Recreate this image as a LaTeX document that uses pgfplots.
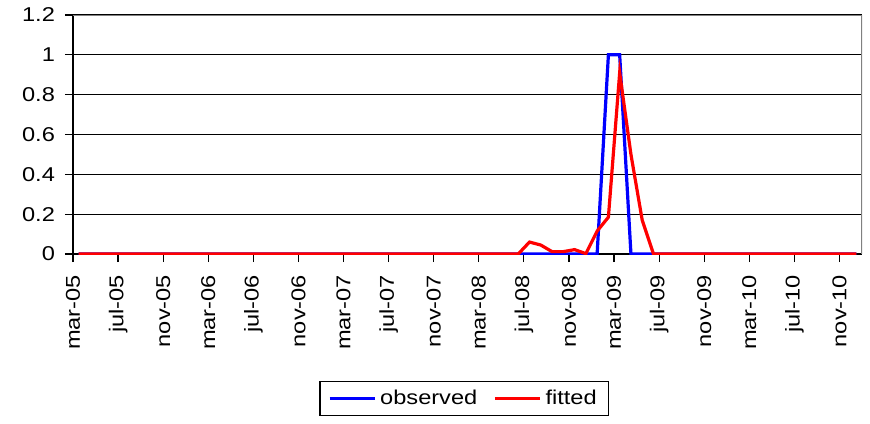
\documentclass[border=0pt]{standalone}
\usepackage{fontspec}
\setmainfont[FakeStretch=1.18]{Liberation Sans}
\usepackage{pgfplots}
\pgfplotsset{compat=1.18}
\usepackage{pgfplotstable}

% monthly data, mar-05 .. dec-10, plotted at slot centres (i+0.5)
\pgfplotstableread{
x    obs  fit
0.5  0    0
1.5  0    0
2.5  0    0
3.5  0    0
4.5  0    0
5.5  0    0
6.5  0    0
7.5  0    0
8.5  0    0
9.5  0    0
10.5 0    0
11.5 0    0
12.5 0    0
13.5 0    0
14.5 0    0
15.5 0    0
16.5 0    0
17.5 0    0
18.5 0    0
19.5 0    0
20.5 0    0
21.5 0    0
22.5 0    0
23.5 0    0
24.5 0    0
25.5 0    0
26.5 0    0
27.5 0    0
28.5 0    0
29.5 0    0
30.5 0    0
31.5 0    0
32.5 0    0
33.5 0    0
34.5 0    0
35.5 0    0
36.5 0    0
37.5 0    0
38.5 0    0
39.5 0    0
40.5 0    0.06
41.5 0    0.045
42.5 0    0.012
43.5 0    0.012
44.5 0    0.022
45.5 0    0.002
46.5 0    0.115
47.5 1    0.185
48.5 1    0.91
49.5 0    0.50
50.5 0    0.17
51.5 0    0
52.5 0    0
53.5 0    0
54.5 0    0
55.5 0    0
56.5 0    0
57.5 0    0
58.5 0    0
59.5 0    0
60.5 0    0
61.5 0    0
62.5 0    0
63.5 0    0
64.5 0    0
65.5 0    0
66.5 0    0
67.5 0    0
68.5 0    0
69.5 0    0
}\series

\begin{document}
\begin{tikzpicture}
\begin{axis}[
  scale only axis,
  width=394.5pt, height=119.5pt,
  xmin=0, xmax=70, ymin=0, ymax=1.2,
  axis lines*=left,
  axis line style={-, black, line width=0.6pt},
  xtick={0,4,...,68},
  xticklabels={mar-05,jul-05,nov-05,mar-06,jul-06,nov-06,mar-07,jul-07,nov-07,
    mar-08,jul-08,nov-08,mar-09,jul-09,nov-09,mar-10,jul-10,nov-10},
  ytick={0,0.2,0.4,0.6,0.8,1,1.2},
  tick align=outside,
  major tick length=4pt,
  tick style={black, line width=0.6pt},
  ymajorgrids,
  major grid style={black, line width=0.6pt},
  /pgf/number format/assume math mode=true,
  tick label style={font=\fontsize{10}{12}\selectfont},
  yticklabel style={xshift=-1.5pt},
  xticklabel shift=3pt,
  xticklabel style={rotate=90, anchor=east},
  legend style={at={(0.496,-0.605)}, anchor=center, legend columns=2,
    draw=black, line width=0.6pt, font=\fontsize{10}{12}\selectfont,
    inner xsep=4pt,
    /tikz/every even column/.append style={column sep=6pt}},
  legend image code/.code={\draw[#1] (0pt,0pt) -- (22.5pt,0pt);},
]
\addplot[blue, line width=1.6pt] table[x=x, y=obs] {\series};
\addlegendentry{observed}
\addplot[red, line width=1.6pt] table[x=x, y=fit] {\series};
\addlegendentry{fitted}
\draw[gray, line width=0.8pt] (rel axis cs:0,1) -- (rel axis cs:1,1) -- (rel axis cs:1,0);
\end{axis}
\pgfresetboundingbox
\path[use as bounding box] (-36.5pt,-84.5pt) rectangle (398.5pt,127pt);
\end{tikzpicture}
\end{document}
